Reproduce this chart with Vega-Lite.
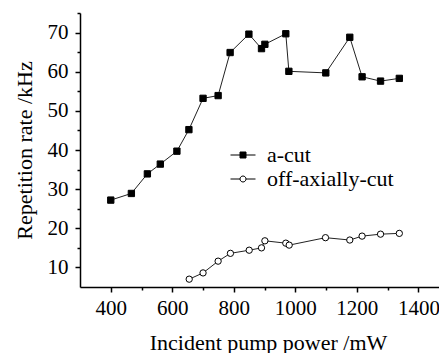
{
  "$schema": "https://vega.github.io/schema/vega-lite/v6.json",
  "width": 359,
  "height": 274,
  "autosize": {"type": "none"},
  "padding": {"left": 80, "top": 13, "right": 0, "bottom": 66},
  "background": "white",
  "config": {
    "view": {"stroke": null},
    "font": "Liberation Serif",
    "axis": {
      "grid": false,
      "domainColor": "black",
      "domainWidth": 1.5,
      "tickColor": "black",
      "tickWidth": 1.5,
      "labelColor": "black",
      "labelFont": "Liberation Serif",
      "labelFontSize": 21,
      "titleFont": "Liberation Serif",
      "titleFontSize": 22,
      "titleFontWeight": "normal",
      "titleColor": "black"
    }
  },
  "data": {
    "values": [
      {"series": "a-cut", "power": 400, "rate": 27.2},
      {"series": "a-cut", "power": 467, "rate": 28.9},
      {"series": "a-cut", "power": 519, "rate": 33.9},
      {"series": "a-cut", "power": 561, "rate": 36.4},
      {"series": "a-cut", "power": 615, "rate": 39.7},
      {"series": "a-cut", "power": 654, "rate": 45.2},
      {"series": "a-cut", "power": 700, "rate": 53.2},
      {"series": "a-cut", "power": 749, "rate": 53.9},
      {"series": "a-cut", "power": 788, "rate": 64.9},
      {"series": "a-cut", "power": 849, "rate": 69.6},
      {"series": "a-cut", "power": 890, "rate": 65.9},
      {"series": "a-cut", "power": 901, "rate": 67.0},
      {"series": "a-cut", "power": 969, "rate": 69.7},
      {"series": "a-cut", "power": 979, "rate": 60.1},
      {"series": "a-cut", "power": 1099, "rate": 59.7},
      {"series": "a-cut", "power": 1177, "rate": 68.8},
      {"series": "a-cut", "power": 1217, "rate": 58.7},
      {"series": "a-cut", "power": 1277, "rate": 57.6},
      {"series": "a-cut", "power": 1338, "rate": 58.3},
      {"series": "off-axially-cut", "power": 655, "rate": 7.0},
      {"series": "off-axially-cut", "power": 700, "rate": 8.6},
      {"series": "off-axially-cut", "power": 749, "rate": 11.6},
      {"series": "off-axially-cut", "power": 789, "rate": 13.6},
      {"series": "off-axially-cut", "power": 850, "rate": 14.4},
      {"series": "off-axially-cut", "power": 890, "rate": 15.0},
      {"series": "off-axially-cut", "power": 901, "rate": 16.8},
      {"series": "off-axially-cut", "power": 969, "rate": 16.2},
      {"series": "off-axially-cut", "power": 980, "rate": 15.7},
      {"series": "off-axially-cut", "power": 1098, "rate": 17.6},
      {"series": "off-axially-cut", "power": 1177, "rate": 17.0},
      {"series": "off-axially-cut", "power": 1217, "rate": 18.0},
      {"series": "off-axially-cut", "power": 1277, "rate": 18.5},
      {"series": "off-axially-cut", "power": 1338, "rate": 18.7}
    ]
  },
  "layer": [
    {
      "mark": {"type": "line", "color": "#222222", "strokeWidth": 1},
      "encoding": {
        "x": {
          "field": "power", "type": "quantitative",
          "scale": {"domain": [300, 1467], "nice": false, "zero": false},
          "axis": {
            "orient": "bottom",
            "values": [400, 600, 800, 1000, 1200, 1400],
            "format": "d",
            "tickSize": 5,
            "labelPadding": 5,
            "labelFlush": false,
            "title": "Incident pump power /mW",
            "titlePadding": 14,
            "titleX": 188
          }
        },
        "y": {
          "field": "rate", "type": "quantitative",
          "scale": {"domain": [5, 75], "nice": false, "zero": false},
          "axis": {
            "orient": "left",
            "values": [10, 20, 30, 40, 50, 60, 70],
            "format": "d",
            "tickSize": 5,
            "labelPadding": 7,
            "labelFlush": false,
            "title": "Repetition rate /kHz",
            "titlePadding": 11
          }
        },
        "detail": {"field": "series"}
      }
    },
    {
      "mark": {"type": "point", "size": 40, "stroke": "black", "strokeWidth": 1, "opacity": 1},
      "encoding": {
        "x": {
          "field": "power", "type": "quantitative",
          "axis": {
            "orient": "bottom",
            "values": [500, 700, 900, 1100, 1300],
            "tickSize": 3,
            "labels": false,
            "domain": false,
            "title": null
          }
        },
        "y": {
          "field": "rate", "type": "quantitative",
          "axis": {
            "orient": "left",
            "values": [15, 25, 35, 45, 55, 65, 75],
            "tickSize": 3,
            "labels": false,
            "domain": false,
            "title": null
          }
        },
        "shape": {
          "field": "series", "type": "nominal",
          "scale": {"domain": ["a-cut", "off-axially-cut"], "range": ["square", "circle"]},
          "legend": null
        },
        "fill": {
          "field": "series", "type": "nominal",
          "scale": {"domain": ["a-cut", "off-axially-cut"], "range": ["black", "white"]},
          "legend": null
        }
      }
    },
    {
      "mark": {"type": "point", "size": 625, "strokeWidth": 1, "opacity": 0},
      "encoding": {
        "x": {"field": "power", "type": "quantitative", "axis": null},
        "y": {"field": "rate", "type": "quantitative", "axis": null},
        "shape": {
          "field": "series", "type": "nominal",
          "scale": {
            "domain": ["a-cut", "off-axially-cut"],
            "range": [
              "M-1,0L-0.24,0M0.24,0L1,0M-0.24,-0.24L0.24,-0.24L0.24,0.24L-0.24,0.24Z",
              "M-1,0L-0.24,0M0.24,0L1,0M0.24,0A0.24,0.24 0 1,1 -0.24,0A0.24,0.24 0 1,1 0.24,0Z"
            ]
          },
          "legend": {
            "title": null,
            "orient": "none",
            "legendX": 150,
            "legendY": 129,
            "symbolSize": 625,
            "symbolStrokeWidth": 1,
            "symbolOpacity": 1,
            "rowPadding": 0,
            "labelFont": "Liberation Serif",
            "labelFontSize": 22,
            "labelColor": "black",
            "labelOffset": 11
          }
        },
        "fill": {
          "field": "series", "type": "nominal",
          "scale": {"domain": ["a-cut", "off-axially-cut"], "range": ["black", "white"]},
          "legend": {
            "title": null,
            "orient": "none",
            "legendX": 150,
            "legendY": 129,
            "symbolSize": 625,
            "symbolStrokeWidth": 1,
            "symbolOpacity": 1,
            "rowPadding": 0,
            "labelFont": "Liberation Serif",
            "labelFontSize": 22,
            "labelColor": "black",
            "labelOffset": 11
          }
        },
        "stroke": {
          "field": "series", "type": "nominal",
          "scale": {"domain": ["a-cut", "off-axially-cut"], "range": ["black", "black"]},
          "legend": {
            "title": null,
            "orient": "none",
            "legendX": 150,
            "legendY": 129,
            "symbolSize": 625,
            "symbolStrokeWidth": 1,
            "symbolOpacity": 1,
            "rowPadding": 0,
            "labelFont": "Liberation Serif",
            "labelFontSize": 22,
            "labelColor": "black",
            "labelOffset": 11
          }
        }
      }
    }
  ],
  "resolve": {
    "axis": {"x": "independent", "y": "independent"},
    "scale": {"shape": "independent", "fill": "independent", "stroke": "independent"}
  }
}
